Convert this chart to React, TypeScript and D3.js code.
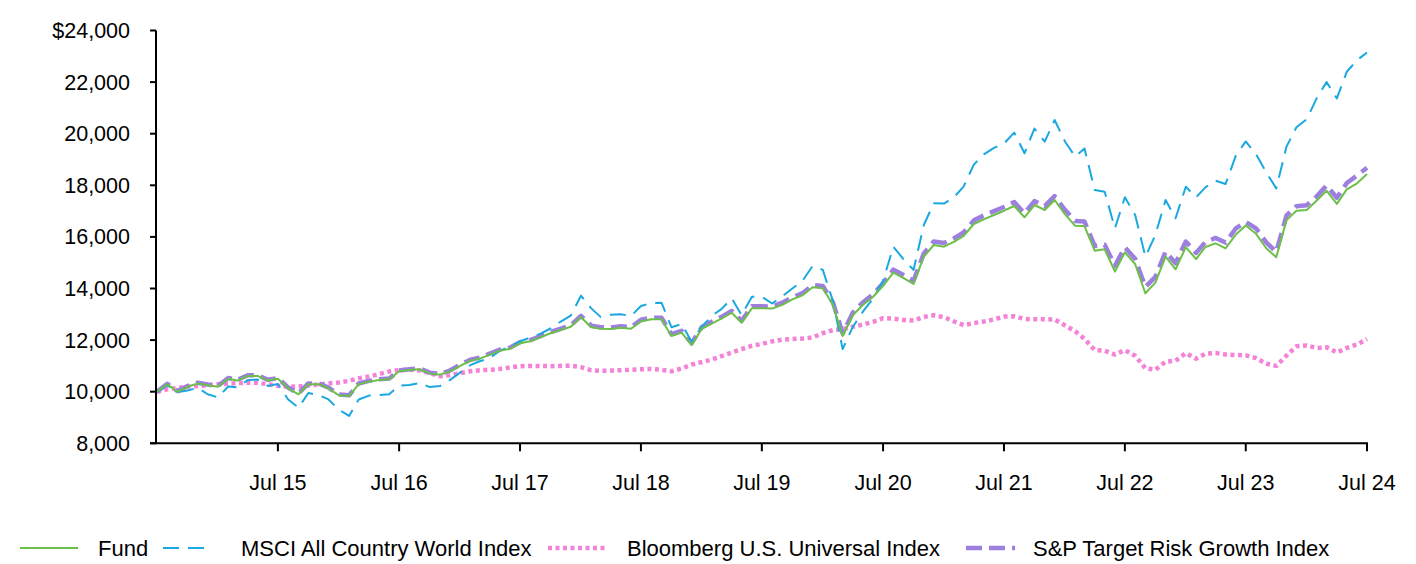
import React from "react";
import * as d3 from "d3";

const START_YEAR = 2014;
const START_MONTH = 6; // July

const fund = [
  10000, 10290, 10000, 10190, 10320, 10250, 10190, 10500, 10430, 10610, 10610, 10430,
  10500, 10130, 9900, 10290, 10290, 10130, 9860, 9830, 10290, 10390, 10450, 10480,
  10790, 10840, 10870, 10710, 10660, 10790, 11000, 11200, 11280, 11435, 11590, 11667,
  11876, 11954, 12110, 12264, 12390, 12520, 12884, 12500, 12440, 12430, 12480, 12440,
  12720, 12806, 12806, 12160, 12290, 11810, 12440, 12650, 12830, 13060, 12675, 13230,
  13230, 13220, 13370, 13580, 13736, 14046, 14008, 13360, 12160, 12973, 13360, 13682,
  14100, 14612, 14400, 14175, 15232, 15686, 15620, 15814, 16035, 16500, 16682, 16849,
  17015, 17198, 16760, 17236, 17043, 17430, 16880, 16430, 16422, 15465, 15520, 14660,
  15400, 14950, 13814, 14227, 15232, 14744, 15600, 15140, 15610, 15750, 15558, 16090,
  16440, 16120, 15560, 15210, 16650, 17015, 17040, 17420, 17790, 17280, 17840, 18077,
  18440,
];

const msci = [
  10000, 10250, 9980, 10050, 10150, 9900, 9780, 10200, 10170, 10450, 10470, 10220,
  10300, 9700, 9380, 9950, 9870, 9700, 9300, 9060, 9700, 9850, 9870, 9900,
  10240, 10260, 10340, 10180, 10220, 10450, 10740, 11030, 11180, 11300, 11590, 11745,
  11950, 12100, 12250, 12450, 12720, 12950, 13720, 13230, 12900, 12980, 13000, 12935,
  13320, 13430, 13450, 12500, 12620, 11940, 12520, 12950, 13200, 13620, 12970, 13680,
  13680, 13420, 13700, 14000, 14300, 14870, 14720, 13500, 11650, 12520, 13100, 13620,
  14300, 15620, 15130, 14720, 16460, 17300, 17290, 17550, 17950, 18800, 19200, 19450,
  19620, 20040, 19240, 20200, 19690, 20530, 19700, 19110, 19430, 17820, 17750, 16330,
  17535, 16850, 15232, 16074, 17430, 16722, 17946, 17535, 17922, 18180, 18050, 19150,
  19700, 19200, 18500, 17880, 19500, 20250, 20560, 21400, 22000, 21370, 22400, 22850,
  23150,
];

const bloomberg = [
  10000, 10090, 10150, 10200, 10220, 10250, 10290, 10310, 10330, 10350, 10340, 10290,
  10230, 10190, 10200, 10240, 10280, 10320, 10360, 10420, 10520, 10590, 10680, 10780,
  10840, 10850, 10820, 10730, 10600, 10640, 10720, 10790, 10830, 10850, 10880, 10940,
  10990, 11000, 11000, 10990, 11000, 11010, 10950, 10830, 10810, 10820, 10830, 10850,
  10870, 10880, 10850, 10790, 10900, 11050, 11150, 11250, 11380, 11520, 11650, 11780,
  11850, 11950, 12020, 12040, 12060, 12100, 12270, 12390, 12420, 12520, 12600, 12710,
  12850, 12830, 12780, 12760, 12900, 12960, 12890, 12720, 12580, 12660, 12720, 12800,
  12910, 12920, 12820, 12806, 12806, 12800, 12570, 12340, 12050, 11616, 11590, 11440,
  11610, 11390, 10910, 10850, 11163, 11200, 11490, 11280, 11470, 11500, 11440, 11422,
  11410, 11300, 11090, 11000, 11400, 11760, 11790, 11690, 11720, 11520, 11700, 11830,
  12040,
];

const spTarget = [
  10000, 10310, 10020, 10220, 10350, 10280, 10220, 10530, 10460, 10640, 10640, 10460,
  10530, 10160, 9930, 10320, 10320, 10160, 9890, 9860, 10320, 10420, 10480, 10510,
  10820, 10870, 10900, 10740, 10690, 10820, 11040, 11240, 11320, 11480, 11630, 11710,
  11920, 12000, 12160, 12310, 12440, 12570, 12940, 12560, 12500, 12490, 12540, 12500,
  12790, 12870, 12870, 12230, 12360, 11880, 12510, 12720, 12900, 13130, 12750, 13310,
  13310, 13300, 13450, 13660, 13820, 14130, 14100, 13450, 12260, 13070, 13460, 13780,
  14200, 14730, 14520, 14300, 15360, 15820, 15760, 15950, 16170, 16640, 16830, 17000,
  17160, 17350, 16910, 17390, 17190, 17580, 17050, 16620, 16600, 15650, 15700, 14880,
  15600, 15150, 14060, 14450, 15430, 14980, 15820, 15380, 15800, 15960, 15780, 16330,
  16580, 16330, 15790, 15420, 16830, 17190, 17230, 17580, 17990, 17520, 18090, 18380,
  18680,
];

const yTicks = [8000, 10000, 12000, 14000, 16000, 18000, 20000, 22000, 24000];
const xTickYears = [2015, 2016, 2017, 2018, 2019, 2020, 2021, 2022, 2023, 2024];

const seriesNames = [
  "Fund",
  "MSCI All Country World Index",
  "Bloomberg U.S. Universal Index",
  "S&P Target Risk Growth Index",
];

const FONT = "'Liberation Sans', Arial, sans-serif";

export default function App() {
  const W = 1416;
  const H = 564;
  const x = d3
    .scaleTime()
    .domain([new Date(START_YEAR, START_MONTH, 1), new Date(2024, 6, 1)])
    .range([157, 1367]);
  const y = d3.scaleLinear().domain([8000, 24000]).range([443.3, 30.5]);

  const dates = fund.map((_, i) => d3.timeMonth.offset(new Date(START_YEAR, START_MONTH, 1), i));
  const line = d3
    .line<number>()
    .x((_, i) => x(dates[i]))
    .y((d) => y(d));

  const styles = [
    { data: fund, color: "#6cc04a", width: 2, dash: undefined as string | undefined },
    { data: msci, color: "#1aa8e0", width: 2, dash: "16,9" },
    { data: bloomberg, color: "#f482d8", width: 4.5, dash: "4,3.5" },
    { data: spTarget, color: "#9d7fe0", width: 4.5, dash: "16,7" },
  ];
  const drawOrder = [2, 3, 1, 0];

  const legend = [
    { lx1: 20, lx2: 78, tx: 98 },
    { lx1: 163, lx2: 210, tx: 241 },
    { lx1: 548, lx2: 607, tx: 627 },
    { lx1: 966, lx2: 1015, tx: 1033 },
  ];

  const fmt = d3.format(",");

  return (
    <svg
      width={W}
      height={H}
      style={{ position: "absolute", left: 0, top: 0, background: "#fff" }}
      fontFamily={FONT}
    >
      {/* lines */}
      {drawOrder.map((k) => {
        const s = styles[k];
        return (
          <path
            key={k}
            d={line(s.data) || ""}
            fill="none"
            stroke={s.color}
            strokeWidth={s.width}
            strokeDasharray={s.dash}
            strokeLinejoin="round"
          />
        );
      })}

      {/* y axis */}
      <line x1={156} x2={156} y1={y(24000)} y2={y(8000)} stroke="#000" strokeWidth={2} />
      {yTicks.map((t) => (
        <g key={t}>
          <line x1={150} x2={156} y1={y(t)} y2={y(t)} stroke="#000" strokeWidth={2} />
          <text x={130} y={y(t)} dy="0.35em" textAnchor="end" fontSize={21.5} fill="#000">
            {t === 24000 ? "$" + fmt(t) : fmt(t)}
          </text>
        </g>
      ))}

      {/* x axis */}
      <line x1={150} x2={1368} y1={y(8000)} y2={y(8000)} stroke="#000" strokeWidth={2} />
      {xTickYears.map((yr) => {
        const xx = x(new Date(yr, 6, 1));
        return (
          <g key={yr}>
            <line x1={xx} x2={xx} y1={y(8000)} y2={y(8000) + 8} stroke="#000" strokeWidth={2} />
            <text x={xx} y={482} dy="0.35em" textAnchor="middle" fontSize={21.5} fill="#000">
              {"Jul " + String(yr).slice(2)}
            </text>
          </g>
        );
      })}

      {/* legend */}
      {legend.map((l, k) => {
        const s = styles[k];
        return (
          <g key={k}>
            <line
              x1={l.lx1}
              x2={l.lx2}
              y1={548}
              y2={548}
              stroke={s.color}
              strokeWidth={k === 0 || k === 1 ? 2 : 4.5}
              strokeDasharray={s.dash}
            />
            <text x={l.tx} y={548} dy="0.35em" fontSize={22} fill="#000">
              {seriesNames[k]}
            </text>
          </g>
        );
      })}
    </svg>
  );
}
